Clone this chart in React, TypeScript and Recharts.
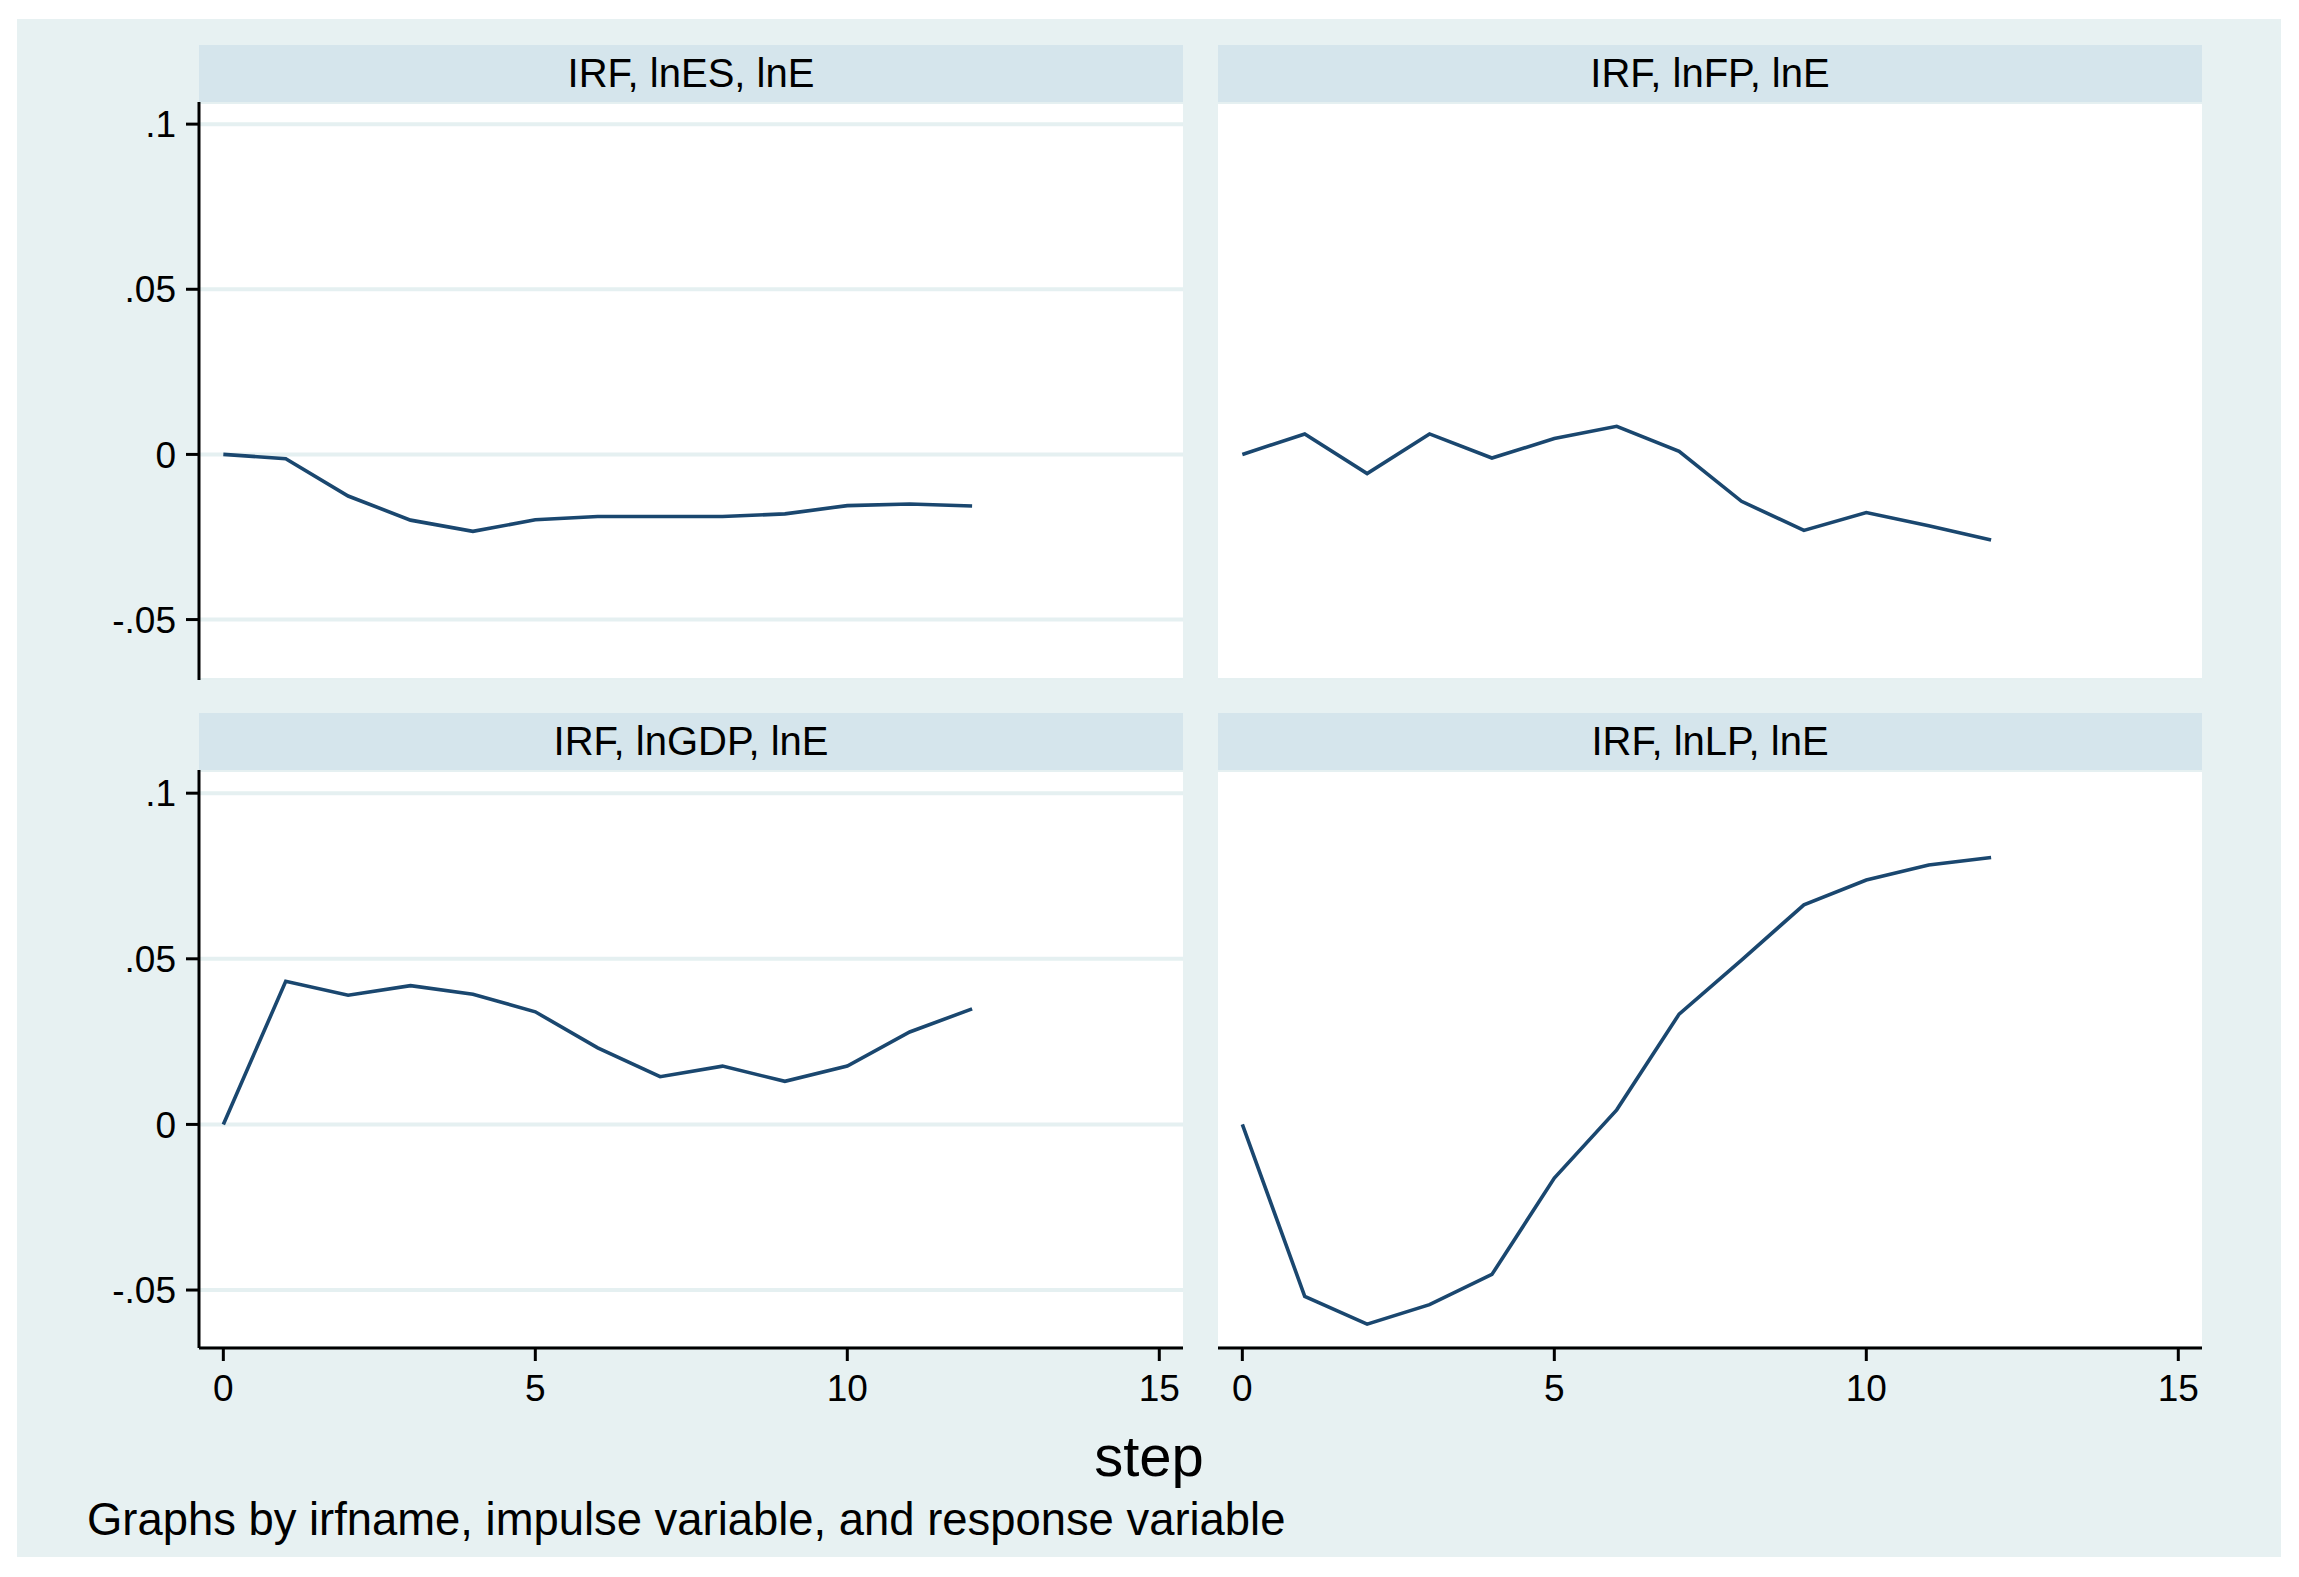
import React from "react";
import { LineChart, Line, XAxis, YAxis, CartesianGrid } from "recharts";

const steps = [0, 1, 2, 3, 4, 5, 6, 7, 8, 9, 10, 11, 12];
const lnES = [0, -0.0013, -0.0126, -0.0199, -0.0233, -0.0198, -0.0188, -0.0188, -0.0188, -0.018, -0.0155, -0.015, -0.0156];
const lnFP = [0, 0.0062, -0.0058, 0.0062, -0.0011, 0.0048, 0.0085, 0.0009, -0.0142, -0.023, -0.0176, -0.0216, -0.0259];
const lnGDP = [0, 0.0432, 0.039, 0.0419, 0.0393, 0.034, 0.0231, 0.0144, 0.0176, 0.013, 0.0176, 0.0279, 0.0349];
const lnLP = [0, -0.0519, -0.0603, -0.0544, -0.0453, -0.0162, 0.0044, 0.0333, 0.0496, 0.0663, 0.0738, 0.0783, 0.0806];

const panelTitles = ["IRF, lnES, lnE", "IRF, lnFP, lnE", "IRF, lnGDP, lnE", "IRF, lnLP, lnE"];
const yTicks = [-0.05, 0, 0.05, 0.1];
const xTicks = [0, 5, 10, 15];
const xDomain = [-0.39, 15.38];
const yDomainTop = [-0.0683, 0.1067];
const yDomainBottom = [-0.0675, 0.107];

const FONT = '"Liberation Sans", Arial, Helvetica, sans-serif';
const BG = "#e7f1f2";
const STRIP = "#d5e5ec";
const GRID = "#e5f0f1";
const LINE = "#1a476f";

const toRows = (vals: number[]) => steps.map((s, i) => ({ step: s, v: vals[i] }));
const fmtY = (v: number) => (v === 0 ? "0" : String(v).replace("0.", "."));

type PanelProps = {
  values: number[];
  title: string;
  left: number;
  top: number;
  showY: boolean;
  showX: boolean;
  yDomain: number[];
};

const PLOT_W = 984;
const PLOT_H = 578;
const Y_W = 99;
const X_H = 70;

function Panel({ values, title, left, top, showY, showX, yDomain }: PanelProps) {
  const data = toRows(values);
  const yw = showY ? Y_W : 0;
  const chartW = PLOT_W + yw;
  const chartH = PLOT_H + (showX ? X_H : 0);
  return (
    <>
      <div
        style={{
          position: "absolute",
          left,
          top: top - 57,
          width: PLOT_W,
          height: 57,
          background: STRIP,
          display: "flex",
          alignItems: "center",
          justifyContent: "center",
          fontFamily: FONT,
          fontSize: 40,
          color: "#000",
        }}
      >
        {title}
      </div>
      <div style={{ position: "absolute", left, top, width: PLOT_W, height: PLOT_H, background: "#fff" }} />
      <div style={{ position: "absolute", left: left - yw, top }}>
        <LineChart width={chartW} height={chartH} data={data} margin={{ top: 0, right: 0, bottom: 0, left: 0 }}>
          <CartesianGrid vertical={false} stroke={GRID} strokeWidth={4} />
          <XAxis
            dataKey="step"
            type="number"
            domain={xDomain}
            ticks={xTicks}
            hide={!showX}
            height={X_H}
            tickSize={13}
            tickMargin={14}
            axisLine={{ stroke: "#000", strokeWidth: 3 }}
            tickLine={{ stroke: "#000", strokeWidth: 3 }}
            tick={{ fontSize: 37, fill: "#000", fontFamily: FONT }}
            allowDataOverflow
          />
          <YAxis
            type="number"
            domain={yDomain}
            ticks={yTicks}
            width={yw}
            tickFormatter={fmtY}
            tickSize={13}
            tickMargin={10}
            axisLine={showY ? { stroke: "#000", strokeWidth: 3 } : false}
            tickLine={showY ? { stroke: "#000", strokeWidth: 3 } : false}
            tick={showY ? { fontSize: 37, fill: "#000", fontFamily: FONT } : false}
            allowDataOverflow
          />
          <Line
            type="linear"
            dataKey="v"
            stroke={LINE}
            strokeWidth={3.6}
            dot={false}
            isAnimationActive={false}
          />
        </LineChart>
      </div>
    </>
  );
}

export default function App() {
  return (
    <div style={{ position: "absolute", left: 0, top: 0, width: 2299, height: 1577, background: "#fff" }}>
      <div style={{ position: "absolute", left: 17, top: 19, width: 2264, height: 1538, background: BG }} />
      <Panel values={lnES} title={panelTitles[0]} left={199} top={102} showY showX={false} yDomain={yDomainTop} />
      <Panel values={lnFP} title={panelTitles[1]} left={1218} top={102} showY={false} showX={false} yDomain={yDomainTop} />
      <Panel values={lnGDP} title={panelTitles[2]} left={199} top={770} showY showX yDomain={yDomainBottom} />
      <Panel values={lnLP} title={panelTitles[3]} left={1218} top={770} showY={false} showX yDomain={yDomainBottom} />
      <div
        style={{
          position: "absolute",
          left: 17,
          width: 2264,
          top: 1421,
          textAlign: "center",
          fontFamily: FONT,
          fontSize: 58,
          color: "#000",
          lineHeight: "70px",
        }}
      >
        step
      </div>
      <div
        style={{
          position: "absolute",
          left: 87,
          top: 1494,
          fontFamily: FONT,
          fontSize: 45.4,
          color: "#000",
          lineHeight: "52px",
          whiteSpace: "nowrap",
        }}
      >
        Graphs by irfname, impulse variable, and response variable
      </div>
    </div>
  );
}
